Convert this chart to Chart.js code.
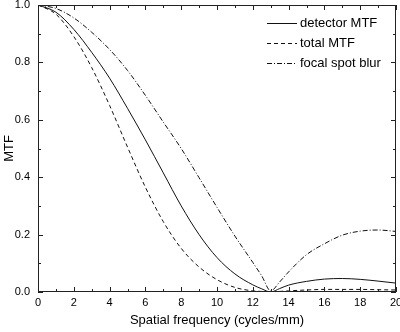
<!DOCTYPE html>
<html lang="en">
<head>
<meta charset="UTF-8">
<title>MTF</title>
<script src="https://cdn.jsdelivr.net/npm/chart.js@4.4.0/dist/chart.umd.min.js"></script>
<style>
  html, body { margin: 0; padding: 0; background: #fff; }
</style>
</head>
<body>
<canvas id="mtf" width="400" height="332"></canvas>
<script>
// spatial frequency (cycles/mm) and the three curves
const freq          = [0, 1, 2, 3, 4, 5, 6, 7, 8, 9, 10, 11, 12, 12.5, 13, 13.5, 14, 15, 16, 17, 18, 19, 20];
const detectorMTF   = [1.0, 0.975, 0.915, 0.835, 0.745, 0.64, 0.53, 0.415, 0.30, 0.20, 0.12, 0.063, 0.025, 0.011, 0.0, 0.012, 0.024, 0.037, 0.045, 0.047, 0.044, 0.038, 0.031];
const totalMTF      = [1.0, 0.968, 0.89, 0.782, 0.65, 0.505, 0.365, 0.245, 0.152, 0.087, 0.043, 0.016, 0.004, 0.002, 0.0, 0.002, 0.004, 0.007, 0.009, 0.009, 0.009, 0.008, 0.007];
const focalSpotBlur = [1.0, 0.988, 0.955, 0.905, 0.845, 0.772, 0.685, 0.592, 0.50, 0.398, 0.295, 0.195, 0.103, 0.056, 0.004, 0.035, 0.07, 0.13, 0.168, 0.198, 0.212, 0.216, 0.211];

const seriesNames = ['detector MTF', 'total MTF', 'focal spot blur'];

const FONT = "'Liberation Sans', Arial, sans-serif";

function pts(ys) {
    return freq.map((f, i) => ({ x: f, y: ys[i] }));
}

// box frame with inward ticks on all four sides + legend inside the plot
const frameAndLegend = {
    id: 'frameAndLegend',
    afterDraw(chart) {
        const ctx = chart.ctx;
        const a = chart.chartArea;
        const xs = chart.scales.x, ys = chart.scales.y;
        ctx.save();
        ctx.strokeStyle = '#222';
        ctx.lineWidth = 1;
        ctx.setLineDash([]);
        ctx.strokeRect(a.left + 0.5, a.top + 0.5, a.right - a.left - 1, a.bottom - a.top - 1);

        ctx.beginPath();
        for (let v = 0; v <= 20; v++) {
            const px = Math.round(xs.getPixelForValue(v)) + 0.5;
            const len = v % 2 === 0 ? 5 : 3;
            ctx.moveTo(px, a.bottom); ctx.lineTo(px, a.bottom - len);
            ctx.moveTo(px, a.top); ctx.lineTo(px, a.top + len);
        }
        for (let k = 0; k <= 10; k++) {
            const py = Math.round(ys.getPixelForValue(k / 10)) + 0.5;
            const len = k % 2 === 0 ? 5 : 3;
            ctx.moveTo(a.left, py); ctx.lineTo(a.left + len, py);
            ctx.moveTo(a.right, py); ctx.lineTo(a.right - len, py);
        }
        ctx.stroke();

        // legend
        ctx.font = '13px ' + FONT;
        ctx.textBaseline = 'middle';
        ctx.textAlign = 'left';
        chart.data.datasets.forEach((ds, i) => {
            const y = 23.5 + i * 20;
            ctx.beginPath();
            ctx.strokeStyle = ds.borderColor;
            ctx.setLineDash(ds.borderDash || []);
            ctx.moveTo(267, y);
            ctx.lineTo(297, y);
            ctx.stroke();
            ctx.fillStyle = '#000';
            ctx.fillText(ds.label, 300, y);
        });
        ctx.restore();
    }
};

new Chart(document.getElementById('mtf'), {
    type: 'line',
    data: {
        datasets: [
            { label: seriesNames[0], data: pts(detectorMTF), borderColor: '#111', borderWidth: 1, borderDash: [] },
            { label: seriesNames[1], data: pts(totalMTF), borderColor: '#111', borderWidth: 1, borderDash: [4, 3] },
            { label: seriesNames[2], data: pts(focalSpotBlur), borderColor: '#111', borderWidth: 1, borderDash: [5, 2, 1, 2] }
        ]
    },
    options: {
        responsive: false,
        animation: false,
        parsing: false,
        layout: { padding: { top: 5, right: 4, left: 0, bottom: 0 } },
        elements: {
            point: { radius: 0 },
            line: { cubicInterpolationMode: 'monotone' }
        },
        plugins: { legend: { display: false }, tooltip: { enabled: false } },
        scales: {
            x: {
                type: 'linear', min: 0, max: 20,
                grid: { display: false, drawTicks: false },
                border: { display: false },
                ticks: { stepSize: 2, padding: 4, maxRotation: 0, color: '#000', font: { family: FONT, size: 11 } },
                title: { display: true, text: 'Spatial frequency (cycles/mm)', color: '#000',
                         font: { family: FONT, size: 13 }, padding: { top: 4, bottom: 4 } },
                afterFit(s) { s.height = 40; s.paddingLeft = 0; s.paddingRight = 0; }
            },
            y: {
                type: 'linear', min: 0, max: 1,
                grid: { display: false, drawTicks: false },
                border: { display: false },
                ticks: { stepSize: 0.2, padding: 8, color: '#000', font: { family: FONT, size: 11 },
                         callback: v => v.toFixed(1) },
                title: { display: true, text: 'MTF', color: '#000',
                         font: { family: FONT, size: 13 }, padding: { top: 2, bottom: 2 } },
                afterFit(s) { s.width = 38; s.paddingTop = 0; s.paddingBottom = 0; }
            }
        }
    },
    plugins: [frameAndLegend]
});
</script>
</body>
</html>
